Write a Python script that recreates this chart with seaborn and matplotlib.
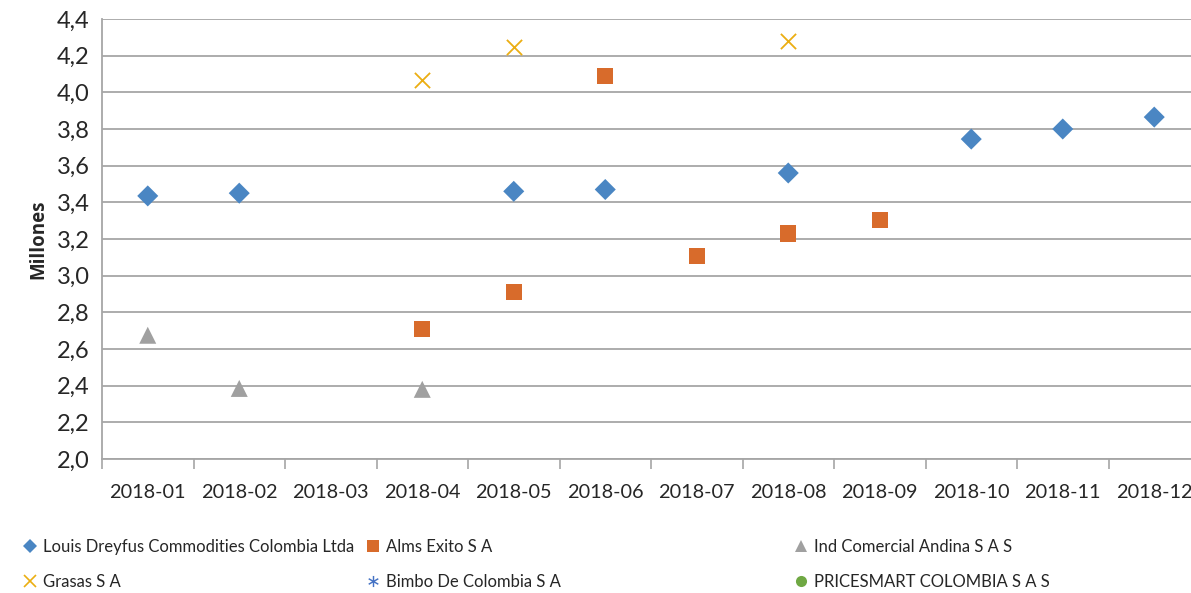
import numpy as np
import pandas as pd
import matplotlib
matplotlib.use("Agg")
import matplotlib.pyplot as plt
import seaborn as sns
from matplotlib.lines import Line2D

# --- data (valores en millones) ---
months = ["2018-01", "2018-02", "2018-03", "2018-04", "2018-05", "2018-06",
          "2018-07", "2018-08", "2018-09", "2018-10", "2018-11", "2018-12"]

series_names = ["Louis Dreyfus Commodities Colombia Ltda", "Alms Exito S A",
                "Ind Comercial Andina S A S", "Grasas S A",
                "Bimbo De Colombia S A", "PRICESMART COLOMBIA S A S"]

louis_months = ["2018-01", "2018-02", "2018-05", "2018-06", "2018-08", "2018-10", "2018-11", "2018-12"]
louis_vals = [3.435, 3.45, 3.46, 3.47, 3.56, 3.745, 3.80, 3.865]

exito_months = ["2018-04", "2018-05", "2018-06", "2018-07", "2018-08", "2018-09"]
exito_vals = [2.71, 2.91, 4.09, 3.105, 3.23, 3.305]

andina_months = ["2018-01", "2018-02", "2018-04"]
andina_vals = [2.675, 2.385, 2.38]

grasas_months = ["2018-04", "2018-05", "2018-08"]
grasas_vals = [4.07, 4.25, 4.28]

bimbo_months = []
bimbo_vals = []
pricesmart_months = []
pricesmart_vals = []

colors = ["#4A86C3", "#D86B2B", "#A0A0A0", "#EBAE12", "#4472C4", "#6FA843"]
markers = ["D", "s", "^", "x", "$\u2217$", "o"]
sizes = [115, 135, 150, 120, 120, 100]

rows = []
for name, ms, vs in zip(series_names,
                        [louis_months, exito_months, andina_months, grasas_months, bimbo_months, pricesmart_months],
                        [louis_vals, exito_vals, andina_vals, grasas_vals, bimbo_vals, pricesmart_vals]):
    for m, v in zip(ms, vs):
        rows.append({"Serie": name, "Mes": m, "Valor": v})
df = pd.DataFrame(rows)
df["pos"] = df["Mes"].map({m: i for i, m in enumerate(months)})

sns.set_style("white")
plt.rcParams["font.family"] = ["Lato", "DejaVu Sans"]

fig = plt.figure(figsize=(11.91, 5.93), dpi=100)
ax = fig.add_axes([102 / 1191, 1 - 459 / 593, (1200 - 102) / 1191, (459 - 19) / 593])

for i, name in enumerate(series_names):
    sub = df[df["Serie"] == name]
    if sub.empty:
        continue
    kw = dict(edgecolor="none") if markers[i] != "x" else dict(linewidth=1.3)
    sns.scatterplot(data=sub, x="pos", y="Valor", ax=ax, color=colors[i],
                    marker=markers[i], s=sizes[i], legend=False, zorder=3, **kw)

ax.set_xlim(-0.5, len(months) - 0.5)
ax.set_ylim(2.0, 4.4)
yt = np.arange(2.0, 4.41, 0.2)
ax.set_yticks(yt)
ax.set_yticklabels([f"{t:.1f}".replace(".", ",") for t in yt], fontsize=17)
ax.yaxis.grid(True, color="#A6A6A6", linewidth=1.3)
ax.set_axisbelow(True)
ax.tick_params(axis="y", length=0, pad=9)

ax.set_xticks(np.arange(-0.5, len(months), 1.0))
ax.set_xticklabels([])
ax.set_xticks(np.arange(len(months)), minor=True)
ax.set_xticklabels(months, minor=True, fontsize=14.3)
ax.tick_params(axis="x", which="major", length=7, width=1.2, color="#A6A6A6", direction="out", bottom=True)
ax.tick_params(axis="x", which="minor", length=0, pad=18)

for side in ["top", "right"]:
    ax.spines[side].set_visible(False)
for side in ["left", "bottom"]:
    ax.spines[side].set_color("#A6A6A6")
    ax.spines[side].set_linewidth(1.3)

ax.set_xlabel("")
ax.set_ylabel("Millones", fontsize=13.5, fontweight="bold", family="Open Sans", labelpad=6)

# leyenda en tres columnas irregulares, como en Excel
def handle(i):
    if markers[i] == "x":
        return Line2D([], [], color=colors[i], marker="x", linestyle="none", markersize=8, markeredgewidth=1.2)
    return Line2D([], [], color=colors[i], marker=markers[i], linestyle="none",
                  markersize=8 if markers[i] != "D" else 7, markeredgewidth=0)

col_x = [23 / 1191, 366 / 1191, 794 / 1191]
for c in range(3):
    idx = [c, c + 3]
    fig.legend([handle(i) for i in idx], [series_names[i] for i in idx],
               loc="upper left", bbox_to_anchor=(col_x[c], 1 - 539 / 593),
               frameon=False, fontsize=12.0, handlelength=0.8, handletextpad=0.4,
               labelspacing=1.15, borderaxespad=0, borderpad=0)

fig.savefig("out.png", dpi=100)
